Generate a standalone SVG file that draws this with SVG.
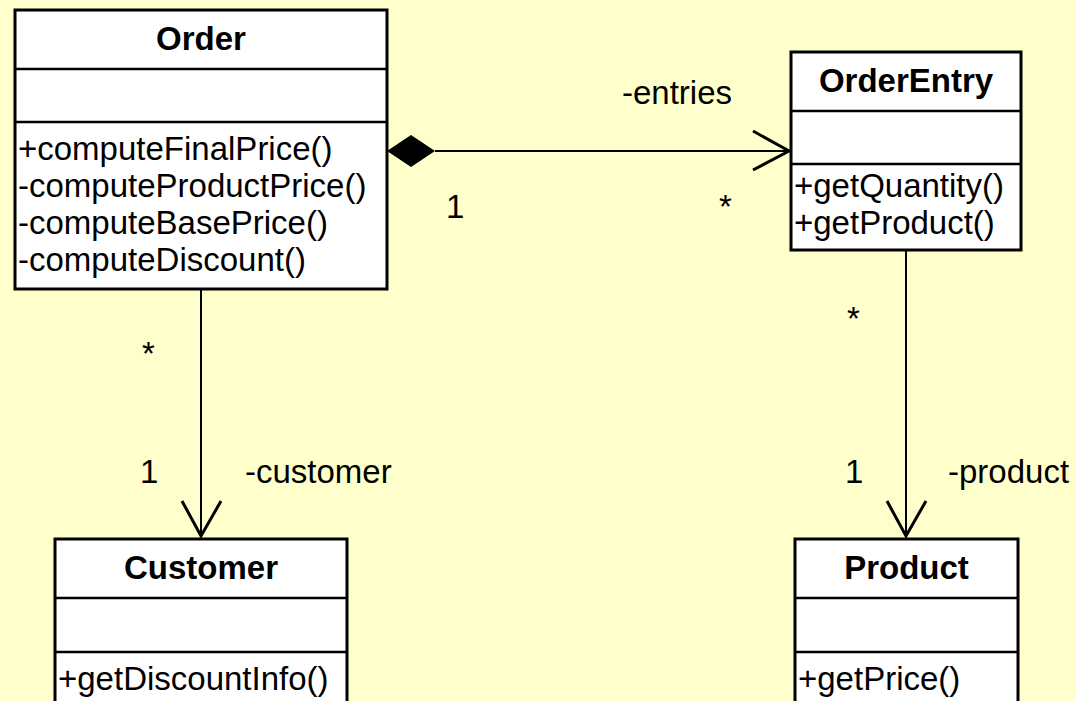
<svg xmlns="http://www.w3.org/2000/svg" width="1076" height="701" viewBox="0 0 1076 701">
<style>
.box{fill:#fff;stroke:#000;stroke-width:3}
.div{stroke:#000;stroke-width:2.5}
.t{font-family:"Liberation Sans",Arial,sans-serif;font-size:33px;fill:#000}
.b{font-weight:bold;text-anchor:middle}
.ln{stroke:#000;stroke-width:2;fill:none}
.hd{stroke:#000;stroke-width:3;fill:none}
</style>
<rect width="1076" height="701" fill="#FFFFCC"/>
<g id="Order">
<rect class="box" x="15" y="10" width="372" height="279"/>
<line class="div" x1="15" y1="69" x2="387" y2="69"/>
<line class="div" x1="15" y1="122" x2="387" y2="122"/>
<text class="t b" x="201" y="50">Order</text>
<text class="t" x="18" y="160">+computeFinalPrice()</text>
<text class="t" x="18" y="197">-computeProductPrice()</text>
<text class="t" x="18" y="234">-computeBasePrice()</text>
<text class="t" x="18" y="271">-computeDiscount()</text>
</g>
<g id="OrderEntry">
<rect class="box" x="791" y="52" width="230" height="198"/>
<line class="div" x1="791" y1="111" x2="1021" y2="111"/>
<line class="div" x1="791" y1="164" x2="1021" y2="164"/>
<text class="t b" x="906" y="92">OrderEntry</text>
<text class="t" x="794" y="197">+getQuantity()</text>
<text class="t" x="794" y="234">+getProduct()</text>
</g>
<g id="Customer">
<rect class="box" x="55" y="539" width="292" height="170"/>
<line class="div" x1="55" y1="598" x2="347" y2="598"/>
<line class="div" x1="55" y1="652" x2="347" y2="652"/>
<text class="t b" x="201" y="579">Customer</text>
<text class="t" x="58" y="690">+getDiscountInfo()</text>
</g>
<g id="Product">
<rect class="box" x="795" y="539" width="223" height="170"/>
<line class="div" x1="795" y1="598" x2="1018" y2="598"/>
<line class="div" x1="795" y1="652" x2="1018" y2="652"/>
<text class="t b" x="906.5" y="579">Product</text>
<text class="t" x="798" y="690">+getPrice()</text>
</g>
<g id="connectors">
<line class="ln" x1="435" y1="151" x2="789" y2="151"/>
<polygon points="387,151 411,135 435,151 411,167" fill="#000"/>
<polyline class="hd" points="753,131 789,151 753,170"/>
<text class="t" x="622" y="104">-entries</text>
<text class="t" x="446" y="218">1</text>
<text class="t" x="719" y="218">*</text>
<line class="ln" x1="201" y1="290" x2="201" y2="537"/>
<polyline class="hd" points="182,501 201,536 221,501"/>
<text class="t" x="142" y="365">*</text>
<text class="t" x="140" y="483">1</text>
<text class="t" x="245" y="483">-customer</text>
<line class="ln" x1="906" y1="251" x2="906" y2="537"/>
<polyline class="hd" points="887,501 906,536 926,501"/>
<text class="t" x="847" y="330">*</text>
<text class="t" x="845" y="483">1</text>
<text class="t" x="948" y="483">-product</text>
</g>
</svg>
